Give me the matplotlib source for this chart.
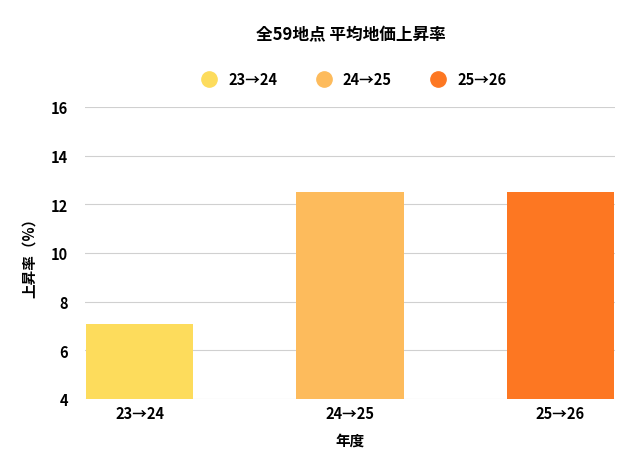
import matplotlib
matplotlib.use("Agg")
import matplotlib.pyplot as plt
from matplotlib.lines import Line2D

plt.rcParams['font.family'] = ['Noto Sans CJK JP', 'DejaVu Sans']

categories = ["23→24", "24→25", "25→26"]
values = [7.1, 12.5, 12.5]
colors = ["#FDDC5C", "#FDBB5C", "#FD7722"]
yticks = [4, 6, 8, 10, 12, 14, 16]

fig = plt.figure(figsize=(6.43, 4.77), dpi=100)
ax = fig.add_axes([85/643, 1-400/477, 530/643, 292/477])
x = range(len(categories))
ax.bar(x, [v - 4 for v in values], bottom=4, width=0.51, color=colors, zorder=3)
ax.set_xlim(-0.26, 2.26)
ax.set_ylim(4, 16)
ax.set_yticks(yticks)
ax.set_xticks(list(x))
ax.set_xticklabels(categories)
ax.grid(axis='y', color='#d0d0d0', linewidth=0.8, zorder=0)
for s in ax.spines.values():
    s.set_visible(False)
ax.tick_params(length=0, labelsize=10.5)
for lbl in ax.get_xticklabels() + ax.get_yticklabels():
    lbl.set_fontweight('bold')
ax.tick_params(axis='y', pad=12)
ax.tick_params(axis='x', pad=4)
ax.set_xlabel("年度", fontsize=10.5, fontweight='bold', labelpad=8)
ax.set_ylabel("上昇率（%）", fontsize=10.5, fontweight='bold', labelpad=10)

fig.text(0.545, 1-35/477, "全59地点 平均地価上昇率", ha='center', va='center',
         fontsize=12, fontweight='bold')
handles = [Line2D([], [], marker='o', linestyle='', markersize=11, color=c) for c in colors]
fig.legend(handles, categories, loc='center', bbox_to_anchor=(0.545, 1-80/477), ncol=3,
           frameon=False, prop={'weight': 'bold', 'size': 10.5}, handletextpad=0.3,
           columnspacing=2.2)
fig.savefig("out.png", dpi=100, facecolor='white')
